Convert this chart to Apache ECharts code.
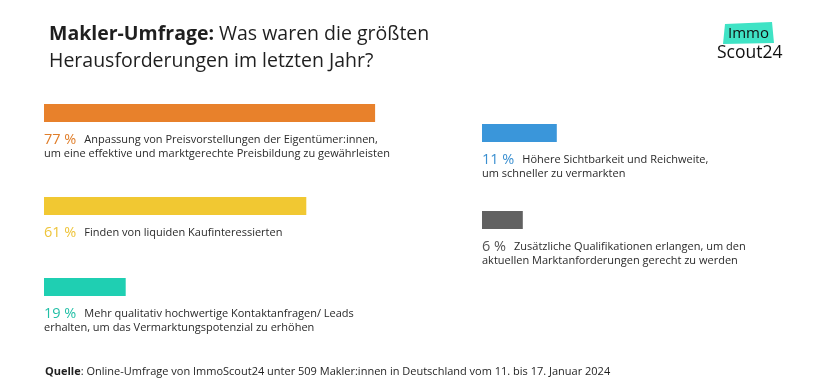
<!DOCTYPE html>
<html><head><meta charset="utf-8">
<script src="https://cdn.jsdelivr.net/npm/echarts@6/dist/echarts.min.js"></script>
<style>html,body{margin:0;padding:0;background:#fff}#c{width:820px;height:390px}</style>
</head><body><div id="c"></div>
<script>
// Data
const categories = [
  'Anpassung von Preisvorstellungen der Eigentümer:innen,\num eine effektive und marktgerechte Preisbildung zu gewährleisten',
  'Finden von liquiden Kaufinteressierten',
  'Mehr qualitativ hochwertige Kontaktanfragen/ Leads\nerhalten, um das Vermarktungspotenzial zu erhöhen',
  'Höhere Sichtbarkeit und Reichweite,\num schneller zu vermarkten',
  'Zusätzliche Qualifikationen erlangen, um den\naktuellen Marktanforderungen gerecht zu werden'
];
const values = [77, 61, 19, 11, 6];

// Styles / layout
const colors = ['#E8812B', '#F1C832', '#1FCFB2', '#3A96DA', '#616161'];
const pctColors = ['#E07E2A', '#EEC43A', '#22BFA6', '#3A8FD0', '#555555'];
const layout = [
  {left: 44, top: 104, width: 430, max: 100},
  {left: 44, top: 197, width: 430, max: 100},
  {left: 44, top: 278, width: 430, max: 100},
  {left: 482, top: 124, width: 136, max: 20},
  {left: 482, top: 211, width: 136, max: 20}
];
const FONT = '"Open Sans", "DejaVu Sans", sans-serif';

const grid = [], xAxis = [], yAxis = [], series = [];
values.forEach((v, i) => {
  const L = layout[i];
  grid.push({left: L.left, top: L.top, width: L.width, height: 18});
  xAxis.push({type: 'value', gridIndex: i, min: 0, max: L.max, show: false});
  yAxis.push({type: 'category', gridIndex: i, data: [''], show: false});
  const lines = categories[i].split('\n');
  let txt = '{p|' + v + ' %}{s| }{t|' + lines[0] + '}';
  for (let k = 1; k < lines.length; k++) txt += '\n{t|' + lines[k] + '}';
  series.push({
    type: 'bar', xAxisIndex: i, yAxisIndex: i, data: [v],
    barWidth: 18, silent: true,
    itemStyle: {color: colors[i]},
    label: {
      show: true, position: [0, 28], align: 'left', verticalAlign: 'top',
      formatter: txt,
      rich: {
        p: {fontFamily: FONT, fontSize: 14.5, color: pctColors[i], lineHeight: 15},
        s: {fontSize: 8, width: 8, lineHeight: 15},
        t: {fontFamily: FONT, fontSize: 11, color: '#2a2a2a', lineHeight: 13}
      }
    }
  });
});

const chart = echarts.init(document.getElementById('c'), null, {renderer: 'canvas'});
chart.setOption({
  backgroundColor: '#ffffff',
  animation: false,
  title: {
    left: 44, top: 16,
    text: '{b|Makler-Umfrage:} {r|Was waren die größten}\n{r|Herausforderungen im letzten Jahr?}',
    textStyle: {
      fontWeight: 'normal',
      rich: {
        b: {fontFamily: FONT, fontSize: 19.5, fontWeight: 'bold', color: '#1f1f1f', lineHeight: 27},
        r: {fontFamily: FONT, fontSize: 19.5, fontWeight: 'normal', color: '#1f1f1f', lineHeight: 27}
      }
    }
  },
  grid, xAxis, yAxis, series,
  graphic: [
    {type: 'polygon', shape: {points: [[725, 24], [772, 22], [774, 43], [723, 44]]}, style: {fill: '#3FE3C5'}},
    {type: 'text', left: 728, top: 26, style: {text: 'Immo', fontFamily: FONT, fontSize: 15, fill: '#111'}},
    {type: 'text', left: 717, top: 44, style: {text: 'Scout24', fontFamily: FONT, fontSize: 17.5, fill: '#111'}},
    {type: 'text', left: 45, top: 366, style: {
      text: '{b|Quelle}{r|: Online-Umfrage von ImmoScout24 unter 509 Makler:innen in Deutschland vom 11. bis 17. Januar 2024}',
      rich: {
        b: {fontFamily: FONT, fontSize: 11, fontWeight: 'bold', fill: '#1f1f1f'},
        r: {fontFamily: FONT, fontSize: 11, fill: '#1f1f1f'}
      }
    }}
  ]
});
</script></body></html>
